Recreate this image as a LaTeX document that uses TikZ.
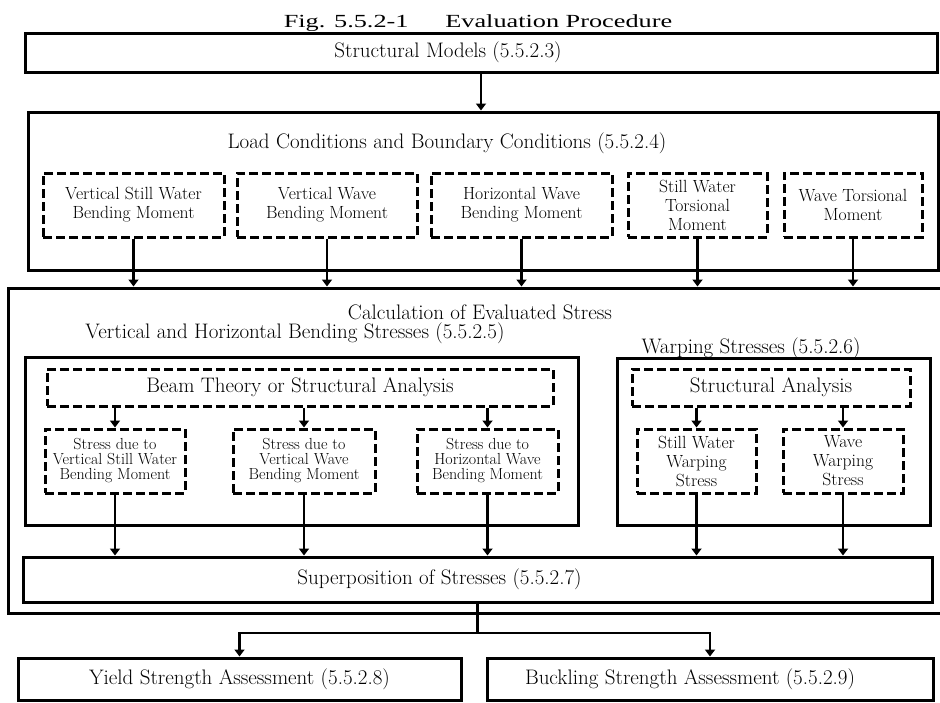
\documentclass[tikz,border=0pt]{standalone}
\usepackage{fontspec}
\newfontfamily\titlefont{Liberation Serif}
\usetikzlibrary{positioning,arrows.meta}

\begin{document}
\begin{tikzpicture}[x=1pt,y=-1pt,
 font=\fontsize{21}{23}\selectfont,
 solidbox/.style={rectangle,draw,line width=3pt,inner sep=0pt},
 dashbox/.style={rectangle,draw,line width=3pt,dash pattern=on 9pt off 4pt,inner sep=0pt,align=center},
 loadtext/.style={font=\fontsize{17.6}{19}\selectfont},
 stresstext/.style={font=\fontsize{16}{15}\selectfont},
 flow/.style={line width=2.8pt,-{Triangle[length=7pt,width=10pt]}}]
\useasboundingbox (0,0) rectangle (940,702);

 \node[font=\titlefont\fontsize{18.5}{20}\selectfont,anchor=base] (title) at (478,27) {\scalebox{1.42}[1]{Fig. 5.5.2-1\hspace{1.4em}Evaluation Procedure}};

 \node[solidbox,minimum width=912pt,minimum height=39pt,label={[xshift=-33pt]center:Structural Models (5.5.2.3)}] (models) at (481,52.5) {};

 \node[solidbox,minimum width=910pt,minimum height=158pt] (loads) at (483,191) {};
 \node[anchor=base] (loadhead) at (447,148) {Load Conditions and Boundary Conditions (5.5.2.4)};
 \node[dashbox,loadtext,minimum width=181pt,minimum height=64pt] (vswbm) at (133.5,205) {Vertical Still Water\\Bending Moment};
 \node[dashbox,loadtext,minimum width=180pt,minimum height=64pt] (vwbm) [right=10pt of vswbm] {Vertical Wave\\Bending Moment};
 \node[dashbox,loadtext,minimum width=181pt,minimum height=64pt] (hwbm) [right=11pt of vwbm] {Horizontal Wave\\Bending Moment};
 \node[dashbox,loadtext,minimum width=139pt,minimum height=64pt] (swtm) [right=13pt of hwbm] {Still Water\\Torsional\\Moment};
 \node[dashbox,loadtext,minimum width=138pt,minimum height=64pt] (wtm) [right=14pt of swtm] {Wave Torsional\\Moment};

 \node[solidbox,minimum width=942pt,minimum height=325pt] (calc) at (479,450.5) {};
 \node[anchor=base] (calchead) at (480,319) {Calculation of Evaluated Stress};
 \node[anchor=base] (vhhead) at (295,338) {Vertical and Horizontal Bending Stresses (5.5.2.5)};
 \node[anchor=base] (warphead) at (751,353) {Warping Stresses (5.5.2.6)};

 \node[solidbox,minimum width=553pt,minimum height=168pt] (vhframe) at (301.5,441) {};
 \node[solidbox,minimum width=313pt,minimum height=167pt] (warpframe) at (773.5,441.5) {};

 \node[dashbox,minimum width=506pt,minimum height=37pt] (beam) at (300,387.5) {Beam Theory or Structural Analysis};
 \node[dashbox,minimum width=278pt,minimum height=37pt] (analysis) at (771,387.5) {Structural Analysis};

 \node[dashbox,stresstext,minimum width=140pt,minimum height=64pt] (svsw) at (115,461) {Stress due to\\Vertical Still Water\\Bending Moment};
 \node[dashbox,stresstext,minimum width=142pt,minimum height=64pt] (svw) at (304,461) {Stress due to\\Vertical Wave\\Bending Moment};
 \node[dashbox,stresstext,minimum width=141pt,minimum height=64pt] (shw) at (487.5,461) {Stress due to\\Horizontal Wave\\Bending Moment};
 \node[dashbox,loadtext,minimum width=119pt,minimum height=64pt] (swws) at (696.5,461) {Still Water\\Warping\\Stress};
 \node[dashbox,loadtext,minimum width=120pt,minimum height=64pt] (wws) at (843,461) {Wave\\Warping\\Stress};

 \node[solidbox,minimum width=909pt,minimum height=45pt,label={[xshift=-38pt]center:Superposition of Stresses (5.5.2.7)}] (super) at (477.5,579.5) {};

 \node[solidbox,minimum width=443pt,minimum height=42pt] (yield) at (239.5,679) {Yield Strength Assessment (5.5.2.8)};
 \node[solidbox,minimum width=446pt,minimum height=42pt,label={[xshift=-20pt]center:Buckling Strength Assessment (5.5.2.9)}] (buckling) at (710,679) {};
 \coordinate (split) at (477.5,633);

\path[draw] (models.south) edge [flow] (models.south |- loads.north);

\path[draw] (vswbm.south) edge [flow] (vswbm.south |- calc.north);
\path[draw] (vwbm.south) edge [flow] (vwbm.south |- calc.north);
\path[draw] (hwbm.south) edge [flow] (hwbm.south |- calc.north);
\path[draw] (swtm.south) edge [flow] (swtm.south |- calc.north);
\path[draw] (wtm.south) edge [flow] (wtm.south |- calc.north);

\path[draw] (beam.south -| svsw.north) edge [flow] (svsw.north);
\path[draw] (beam.south -| svw.north) edge [flow] (svw.north);
\path[draw] (beam.south -| shw.north) edge [flow] (shw.north);
\path[draw] (analysis.south -| swws.north) edge [flow] (swws.north);
\path[draw] (analysis.south -| wws.north) edge [flow] (wws.north);

\path[draw] (svsw.south) edge [flow] (svsw.south |- super.north);
\path[draw] (svw.south) edge [flow] (svw.south |- super.north);
\path[draw] (shw.south) edge [flow] (shw.south |- super.north);
\path[draw] (swws.south) edge [flow] (swws.south |- super.north);
\path[draw] (wws.south) edge [flow] (wws.south |- super.north);

\path[draw,line width=2.8pt] (super.south) -- (split);
\path[draw,flow] (split) -| (yield.north);
\path[draw,flow] (split) -| (buckling.north);
\end{tikzpicture}
\end{document}
